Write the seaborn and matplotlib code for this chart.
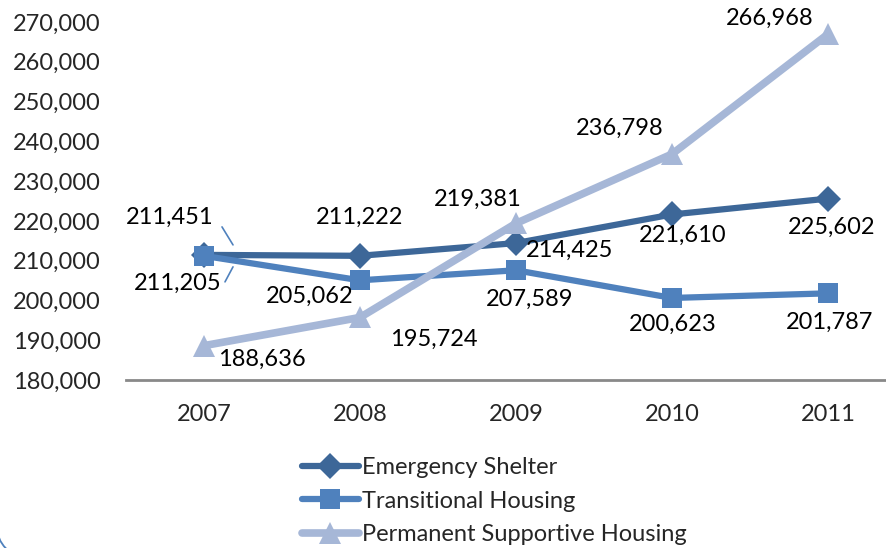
import matplotlib
matplotlib.use("Agg")
import matplotlib.pyplot as plt
import matplotlib.transforms as mtransforms
from matplotlib.patches import Arc
import seaborn as sns
import pandas as pd

years = ["2007", "2008", "2009", "2010", "2011"]
emergency_shelter = [211451, 211222, 214425, 221610, 225602]
transitional_housing = [211205, 205062, 207589, 200623, 201787]
permanent_supportive = [188636, 195724, 219381, 236798, 266968]
series_names = ["Emergency Shelter", "Transitional Housing", "Permanent Supportive Housing"]
y_ticks = [180000, 190000, 200000, 210000, 220000, 230000, 240000, 250000, 260000, 270000]

sns.set_theme(style="white")
plt.rcParams["font.family"] = ["Lato", "DejaVu Sans"]
FS = 17

W, H = 886, 548
fig = plt.figure(figsize=(W / 100, H / 100), dpi=100)
ax = fig.add_axes([126 / W, 1 - 380 / H, (906 - 126) / W, (380 - 22) / H])

colors = ["#3D6798", "#4F81BD", "#A6B7D7"]
markers = ["D", "s", "^"]
msizes = [13, 15, 16]
lws = [4.5, 4.5, 5.5]
values = [emergency_shelter, transitional_housing, permanent_supportive]

xs = list(range(len(years)))
for name, vals, c, m, ms, lw in zip(series_names, values, colors, markers, msizes, lws):
    df = pd.DataFrame({"x": xs, "y": vals})
    sns.lineplot(data=df, x="x", y="y", ax=ax, color=c, lw=lw, marker=m,
                 markersize=ms, markeredgewidth=0, markeredgecolor=c, label=name,
                 clip_on=False, zorder=3)

# label offsets in pixels (x right, y up)
offsets = [
    [(-34, 38), (0, 38), (54, -7), (11, -21), (4, -29)],
    [(-26, -27), (-50, -16), (14, -29), (1, -26), (2, -29)],
    [(58, -14), (74, -22), (-38, 24), (-52, 26), (-58, 16)],
]
for vals, offs in zip(values, offsets):
    for i, (v, o) in enumerate(zip(vals, offs)):
        ax.annotate(f"{v:,}", xy=(i, v), xytext=o, textcoords="offset pixels",
                    ha="center", va="center", fontsize=FS, color="black",
                    annotation_clip=False, zorder=5)

# leader lines for 2007 labels
for v, (p0, p1) in [(emergency_shelter[0], ((18, 28), (29, 10))),
                    (transitional_housing[0], ((29, -11), (21, -26)))]:
    t0 = mtransforms.offset_copy(ax.transData, fig=fig, x=p0[0], y=p0[1], units="dots")
    t1 = mtransforms.offset_copy(ax.transData, fig=fig, x=p1[0], y=p1[1], units="dots")
    ax.annotate("", xy=(0, v), xycoords=t1, xytext=(0, v), textcoords=t0,
                arrowprops=dict(arrowstyle="-", color="#4F81BD", lw=1.2, shrinkA=0, shrinkB=0))

ax.set_xlim(-0.5, 4.5)
ax.set_ylim(180000, 270000)
ax.set_yticks(y_ticks)
ax.set_yticklabels([f"{t:,}" for t in y_ticks])
ax.set_xticks(xs)
ax.set_xticklabels(years)
ax.tick_params(axis="y", length=0, pad=18, labelsize=FS)
ax.tick_params(axis="x", length=0, pad=17, labelsize=FS)
ax.set_xlabel("")
ax.set_ylabel("")
for s in ["top", "right", "left"]:
    ax.spines[s].set_visible(False)
ax.spines["bottom"].set_color("#898989")
ax.spines["bottom"].set_linewidth(2)
ax.grid(False)
ax.set_facecolor("none")

ax.get_legend().remove()
h, l = ax.get_legend_handles_labels()
leg = fig.legend(h, l, loc="upper left", bbox_to_anchor=(302 / W, 1 - 457 / H),
                 frameon=False, fontsize=FS, handlelength=2.4, handletextpad=0.15,
                 labelspacing=0.53, borderpad=0, borderaxespad=0)

# chart-area rounded border corner (only the corner is visible)
fig.patches.append(Arc((27, 21), 60, 60, theta1=180, theta2=270,
                       transform=mtransforms.IdentityTransform(),
                       ec="#4F81BD", lw=1.3, figure=fig))

fig.savefig("out.png", dpi=100)
